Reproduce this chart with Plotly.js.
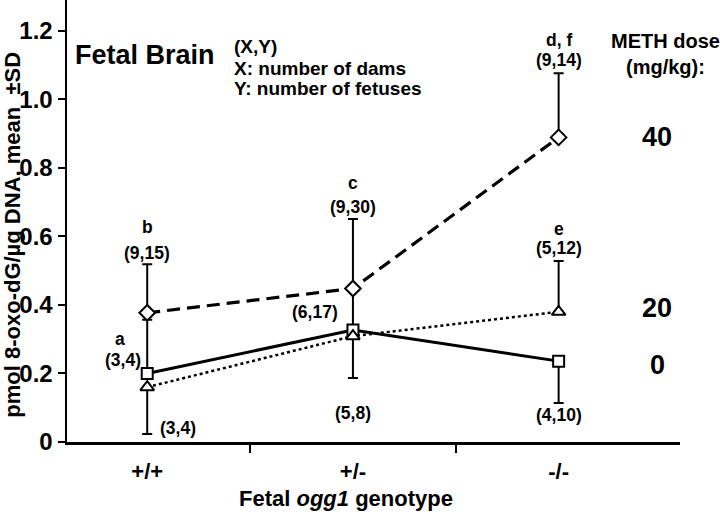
<!DOCTYPE html>
<html>
<head>
<meta charset="utf-8">
<script src="https://cdn.plot.ly/plotly-3.0.1.min.js"></script>
<style>
  html, body { margin: 0; padding: 0; background: #ffffff; }
  #chart { width: 720px; height: 519px; }
</style>
</head>
<body>
<div id="chart"></div>
<script>
// genotype categories on the x axis
const genotypes = ['+/+', '+/-', '-/-'];

// METH 0 mg/kg (solid line, squares)
const dose0 = [0.200, 0.327, 0.236];
const dose0Up = [0.157, 0.121, 0];
const dose0Down = [0, 0, 0.122];

// METH 20 mg/kg (dotted line, triangles)
const dose20 = [0.160, 0.309, 0.380];
const dose20Up = [0, 0, 0.148];
const dose20Down = [0.137, 0.122, 0];

// METH 40 mg/kg (dashed line, diamonds)
const dose40 = [0.377, 0.448, 0.889];
const dose40Up = [0.142, 0.203, 0.187];
const dose40Down = [0, 0, 0];

const yTicks = [0, 0.2, 0.4, 0.6, 0.8, 1.0, 1.2];
const yTickText = ['0', '0.2', '0.4', '0.6', '0.8', '1.0', '1.2'];

const xIdx = genotypes.map((g, i) => i);
const FONT = 'Liberation Sans, Arial, Helvetica, sans-serif';

function makeTrace(name, y, up, down, dash, width, symbol, size) {
    return {
        name: name,
        x: xIdx,
        y: y,
        type: 'scatter',
        mode: 'lines+markers',
        line: { color: '#000000', width: width, dash: dash },
        marker: { symbol: symbol, size: size, color: '#ffffff', line: { color: '#000000', width: 2 } },
        error_y: {
            type: 'data', symmetric: false, array: up, arrayminus: down,
            color: '#000000', thickness: 2, width: 5
        },
        cliponaxis: false,
        showlegend: false
    };
}

const traces = [
    makeTrace('0', dose0, dose0Up, dose0Down, 'solid', 3, 'square', 11),
    makeTrace('20', dose20, dose20Up, dose20Down, 'dot', 2.5, 'triangle-up', 12),
    makeTrace('40', dose40, dose40Up, dose40Down, '13px,7px', 3.2, 'diamond', 12)
];

// labels next to the points: [text, x index, y value, xanchor]
const pointLabels = [
    ['b', 0, 0.627, 'center'],
    ['(9,15)', 0, 0.553, 'center'],
    ['a', -0.13, 0.302, 'center'],
    ['(3,4)', -0.117, 0.239, 'center'],
    ['(3,4)', 0.05, 0.04, 'left'],
    ['c', 1, 0.755, 'center'],
    ['(9,30)', 1, 0.685, 'center'],
    ['(6,17)', 0.818, 0.379, 'center'],
    ['(5,8)', 1, 0.084, 'center'],
    ['d, f', 2, 1.172, 'center'],
    ['(9,14)', 2, 1.116, 'center'],
    ['e', 2, 0.623, 'center'],
    ['(5,12)', 2, 0.565, 'center'],
    ['(4,10)', 2, 0.078, 'center']
];

const doseLabels = [['40', 0.889], ['20', 0.39], ['0', 0.224]];

// key text in the upper left: [text, paper y]
const keyLines = [['(X,Y)', 0.894], ['X: number of dams', 0.846], ['Y: number of fetuses', 0.800]];

const annotations = pointLabels.map(p => ({
    text: p[0], x: p[1], y: p[2], xref: 'x', yref: 'y',
    xanchor: p[3], yanchor: 'middle', showarrow: false,
    font: { size: 17.5, color: '#000000' }
}));

doseLabels.forEach(d => annotations.push({
    text: d[0], x: 0.9625, y: d[1], xref: 'paper', yref: 'y',
    xanchor: 'center', yanchor: 'middle', showarrow: false,
    font: { size: 27, color: '#000000' }
}));

keyLines.forEach(k => annotations.push({
    text: k[0], x: 0.269, y: k[1], xref: 'paper', yref: 'paper',
    xanchor: 'left', yanchor: 'middle', showarrow: false,
    font: { size: 19, color: '#000000' }
}));

annotations.push(
    {
        text: 'Fetal Brain', x: 0.0098, y: 0.875, xref: 'paper', yref: 'paper',
        xanchor: 'left', yanchor: 'middle', showarrow: false,
        font: { size: 27, color: '#000000' }
    },
    {
        text: 'METH dose<br>(mg/kg):', x: 0.977, y: 0.878, xref: 'paper', yref: 'paper',
        xanchor: 'center', yanchor: 'middle', showarrow: false,
        font: { size: 20, color: '#000000' }
    },
    {
        text: 'pmol 8-oxo-dG/µg DNA, mean  ±SD', textangle: -90,
        x: -0.089, y: 0.47, xref: 'paper', yref: 'paper',
        xanchor: 'center', yanchor: 'middle', showarrow: false,
        font: { size: 22, color: '#000000' }
    },
    {
        text: 'Fetal <i>ogg1</i> genotype', x: 0.455, y: -0.127,
        xref: 'paper', yref: 'paper', xanchor: 'center', yanchor: 'middle',
        showarrow: false, font: { size: 22, color: '#000000' }
    }
);

const layout = {
    width: 720,
    height: 519,
    margin: { l: 67, r: 40, t: 0, b: 77 },
    paper_bgcolor: '#ffffff',
    plot_bgcolor: '#ffffff',
    font: { family: FONT, color: '#000000', weight: 'bold' },
    showlegend: false,
    xaxis: {
        range: [-0.39, 2.59],
        tickmode: 'array',
        tickvals: xIdx,
        ticktext: genotypes,
        ticks: '',
        ticklabelstandoff: 8,
        tickfont: { size: 22, color: '#000000' },
        showgrid: false,
        zeroline: false,
        showline: true,
        linecolor: '#000000',
        linewidth: 2.5,
        minor: { tickmode: 'array', tickvals: [0.5, 1.5], ticks: 'outside', ticklen: 8, tickwidth: 2, tickcolor: '#000000', showgrid: false }
    },
    yaxis: {
        range: [0, 1.29],
        tickmode: 'array',
        tickvals: yTicks,
        ticktext: yTickText,
        ticks: 'outside',
        ticklen: 7,
        tickwidth: 2,
        tickcolor: '#000000',
        tickfont: { size: 24, color: '#000000' },
        showgrid: false,
        zeroline: false,
        showline: true,
        linecolor: '#000000',
        linewidth: 2.5
    },
    annotations: annotations
};

Plotly.newPlot('chart', traces, layout, { displayModeBar: false, staticPlot: true });
</script>
</body>
</html>
